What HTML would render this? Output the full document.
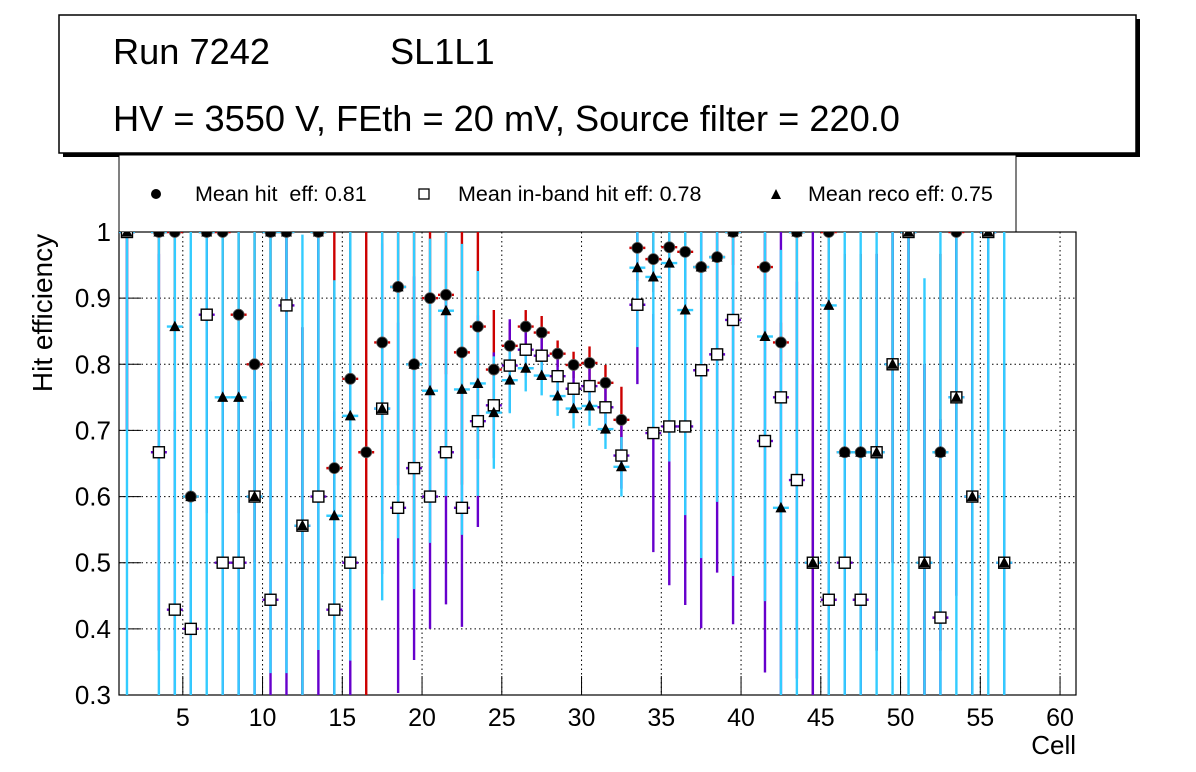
<!DOCTYPE html>
<html><head><meta charset="utf-8">
<style>
html,body{margin:0;padding:0;background:#fff;}
svg{display:block;font-family:"Liberation Sans",sans-serif;}
</style></head>
<body>
<svg id="chart" width="1196" height="772" viewBox="0 0 1196 772" xmlns="http://www.w3.org/2000/svg">
  <defs><clipPath id="plotclip"><rect x="119" y="232" width="957" height="463"/></clipPath></defs>
  <rect x="0" y="0" width="1196" height="772" fill="#fff"/>
  <g>
    <rect x="63" y="19" width="1077" height="138" fill="#000"/>
    <rect x="59" y="15" width="1077" height="138" fill="#fff" stroke="#000" stroke-width="1.5"/>
    <text x="113" y="64" font-size="36.2">Run 7242</text>
    <text x="390" y="64" font-size="36.2">SL1L1</text>
    <text x="113" y="131" font-size="36.2">HV = 3550 V, FEth = 20 mV, Source filter = 220.0</text>
  </g>
  <g>
    <rect x="119" y="155" width="897" height="77" fill="#fff" stroke="#000" stroke-width="1"/>
    <circle cx="156" cy="194" r="5" fill="#000"/>
    <text x="195" y="201" font-size="21.5" style="white-space:pre">Mean hit  eff: 0.81</text>
    <rect x="419" y="189" width="10" height="10" fill="#fff" stroke="#000" stroke-width="1.3"/>
    <text x="458" y="201" font-size="21.5">Mean in-band hit eff: 0.78</text>
    <polygon points="776,189 771,199 781,199" fill="#000"/>
    <text x="808" y="201" font-size="21.5">Mean reco eff: 0.75</text>
  </g>
  <g id="grid"></g>
  <g id="axes"></g>
  <g id="errs" clip-path="url(#plotclip)"></g>
  <g id="marks" clip-path="url(#plotclip)"></g>
  <text x="52" y="313" font-size="28" text-anchor="middle" transform="rotate(-90 52 313)">Hit efficiency</text>
  <text x="1076" y="754" font-size="26" text-anchor="end">Cell</text>
</svg>
<script>
const hitEff = [1,null,1,1,0.6,1,1,0.875,0.8,1, 1,0.556,1,0.643,0.778,0.667,0.833,0.917,0.8,0.9, 0.905,0.818,0.857,0.792,0.828,0.857,0.848,0.816,0.799,0.802, 0.772,0.716,0.976,0.959,0.977,0.97,0.947,0.962,1,null, 0.947,0.833,1,0.5,1,0.667,0.667,0.667,0.8,1, 0.5,0.667,1,0.6,1,0.5];
const inbandEff = [1,null,0.667,0.429,0.4,0.875,0.5,0.5,0.6,0.444, 0.889,0.556,0.6,0.429,0.5,null,0.733,0.583,0.643,0.6, 0.667,0.583,0.714,0.738,0.798,0.822,0.813,0.782,0.763,0.767, 0.735,0.662,0.89,0.696,0.706,0.706,0.791,0.815,0.867,null, 0.684,0.75,0.625,0.5,0.444,0.5,0.444,0.667,0.8,1, 0.5,0.417,0.75,0.6,1,0.5];
const recoEff = [1,null,1,0.857,0.6,1,0.75,0.75,0.6,1, 1,0.556,1,0.571,0.722,null,0.733,0.917,0.8,0.76, 0.881,0.762,0.771,0.727,0.776,0.794,0.783,0.752,0.733,0.737, 0.702,0.645,0.946,0.932,0.953,0.882,0.947,0.962,1,null, 0.842,0.583,1,0.5,0.889,0.667,0.667,0.667,0.8,1, 0.5,0.667,0.75,0.6,1,0.5];
const hitErr = [0.3,0,0.3,0.3,0.3,0.3,0.3,0.3,0.3,0.3, 0.3,0.3,0.3,0.4,0.3,0.4,0.3,0.3,0.3,0.15, 0.12,0.2,0.2,0.09,0.035,0.025,0.025,0.02,0.02,0.025, 0.027,0.05,0.05,0.05,0.05,0.05,0.05,0.05,0.05,0, 0.05,0.03,0.3,0.3,0.3,0.3,0.3,0.3,0.3,0.3, 0.3,0.3,0.3,0.3,0.3,0.3];
const inbandErr = [0.3,0,0.3,0.3,0.3,0.3,0.3,0.3,0.3,0.3, 0.6,0.3,0.4,0.3,0.3,0,0.25,0.28,0.29,0.2, 0.23,0.18,0.16,0.08,0.07,0.04,0.03,0.03,0.03,0.03, 0.035,0.05,0.12,0.18,0.24,0.27,0.39,0.33,0.46,0, 0.35,0.5,0.3,1,0.3,0.3,0.3,0.3,0.3,0.3, 0.3,0.3,0.3,0.3,0.3,0.3];
const recoErr = [1,0,1,1,1,1,1,1,1,0.667, 0.667,0.44,0.632,0.356,0.37,0,0.29,0.38,0.34,0.23, 0.28,0.22,0.17,0.085,0.05,0.035,0.03,0.03,0.03,0.03, 0.03,0.045,0.12,0.24,0.3,0.31,0.44,0.37,0.52,0, 0.4,0.39,1,0,1,1,1,1,1,1, 0.43,1,1,1,1,1];
const xTicks = [5,10,15,20,25,30,35,40,45,50,55,60];
const yTicks = [0.3,0.4,0.5,0.6,0.7,0.8,0.9,1];
const yTickLabels = ["0.3","0.4","0.5","0.6","0.7","0.8","0.9","1"];

const NS = "http://www.w3.org/2000/svg";
const L = 119, R = 1076, T = 232, B = 695;
const X0 = 1, X1 = 61, Y0 = 0.3, Y1 = 1.0;
function xs(v){ return L + (v - X0) / (X1 - X0) * (R - L); }
function ys(v){ return B - (v - Y0) / (Y1 - Y0) * (B - T); }
function clampY(v){ return Math.max(Y0, Math.min(Y1, v)); }
function mk(tag, attrs, parent){
  const e = document.createElementNS(NS, tag);
  for (const k in attrs) e.setAttribute(k, attrs[k]);
  parent.appendChild(e);
  return e;
}
const grid = document.getElementById('grid');
const axes = document.getElementById('axes');
const errs = document.getElementById('errs');
const marks = document.getElementById('marks');

xTicks.forEach(function(t){
  const g = mk('line', {x1: xs(t), x2: xs(t), y1: T, y2: B, stroke: '#000', 'stroke-width': 1, 'stroke-dasharray': '1.5,3'}, grid);
  
  
  const tk = mk('line', {x1: xs(t), x2: xs(t), y1: B, y2: B - 19, stroke: '#000', 'stroke-width': 1}, axes);
  
  
  const lb = mk('text', {x: xs(t), y: 726, 'font-size': 25, 'text-anchor': 'middle'}, axes);
  lb.textContent = String(t);
  
  
});
yTicks.forEach(function(t, i){
  if (t > Y0 && t < Y1) {
    const g = mk('line', {x1: L, x2: R, y1: ys(t), y2: ys(t), stroke: '#000', 'stroke-width': 1, 'stroke-dasharray': '1.5,3'}, grid);
    
    
  }
  const tk = mk('line', {x1: L, x2: L + 22, y1: ys(t), y2: ys(t), stroke: '#000', 'stroke-width': 1}, axes);
  
  
  const lb = mk('text', {x: 111, y: ys(t) + 9, 'font-size': 26, 'text-anchor': 'end'}, axes);
  lb.textContent = yTickLabels[i];
  
  
});
const frame = mk('rect', {x: L, y: T, width: R - L, height: B - T, fill: 'none', stroke: '#000', 'stroke-width': 1.2}, axes);



const series = [
  {vals: hitEff, err: hitErr, color: '#cc0000', name: 'hit'},
  {vals: inbandEff, err: inbandErr, color: '#6600cc', name: 'inband'},
  {vals: recoEff, err: recoErr, color: '#33ccff', name: 'reco'}
];
series.forEach(function(s){
  s.vals.forEach(function(v, i){
    if (v === null) return;
    const c = i + 1.5;
    const e = s.err[i];
    if (e > 0) {
      const vl = mk('line', {x1: xs(c), x2: xs(c), y1: ys(clampY(v + e)), y2: ys(clampY(v - e)), stroke: s.color, 'stroke-width': 2.4}, errs);
      
      
    }
    const hl = mk('line', {x1: xs(c - 0.5), x2: xs(c + 0.5), y1: ys(v), y2: ys(v), stroke: s.color, 'stroke-width': 2.4}, errs);
    
    
  });
});
hitEff.forEach(function(v, i){
  if (v === null) return;
  const m = mk('circle', {cx: xs(i + 1.5), cy: ys(v), r: 5.5, fill: '#000', stroke: '#555', 'stroke-width': 0.8}, marks);
  
  
});
inbandEff.forEach(function(v, i){
  if (v === null) return;
  const x = xs(i + 1.5), y = ys(v);
  const m = mk('rect', {x: x - 5.5, y: y - 5.5, width: 11, height: 11, fill: '#fff', stroke: '#000', 'stroke-width': 1.4}, marks);
  
  
});
recoEff.forEach(function(v, i){
  if (v === null) return;
  const x = xs(i + 1.5), y = ys(v);
  const m = mk('polygon', {points: x + ',' + (y - 6) + ' ' + (x - 5.5) + ',' + (y + 4.5) + ' ' + (x + 5.5) + ',' + (y + 4.5), fill: '#000'}, marks);
  
  
});
</script>
</body></html>
